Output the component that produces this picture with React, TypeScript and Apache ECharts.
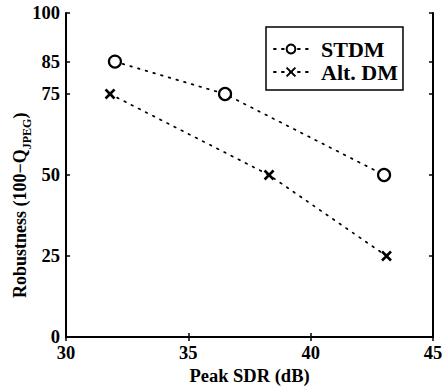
import React, { useEffect, useRef } from "react";
import * as echarts from "echarts";

const sdrStdm = [32, 36.5, 43.0];
const robStdm = [85, 75, 50];
const sdrAlt = [31.8, 38.3, 43.1];
const robAlt = [75, 50, 25];
const yTicks = [0, 25, 50, 75, 85, 100];
const xTicks = [30, 35, 40, 45];

const FONT = "'Liberation Serif', 'DejaVu Serif', serif";
const CROSS = "path://M0,0 L10,10 M10,0 L0,10";

export default function App() {
  const ref = useRef<HTMLDivElement>(null);
  useEffect(() => {
    if (!ref.current) return;
    const chart = echarts.init(ref.current, null, { renderer: "svg" });
    const labelStyle = { fontFamily: FONT, fontSize: 18.5, fontWeight: "bold" as const, color: "#000" };
    const axisLineStyle = { color: "#000", width: 2 };
    const tickStyle = { color: "#000", width: 1.5 };
    chart.setOption({
      animation: false,
      backgroundColor: "#fff",
      grid: { left: 66, right: 12, top: 13, bottom: 50, containLabel: false, outerBoundsMode: "none" },
      legend: {
        left: 266,
        top: 27,
        orient: "vertical",
        borderColor: "#000",
        borderWidth: 1.5,
        padding: [11, 5, 7, 7],
        itemWidth: 34,
        itemHeight: 11,
        itemGap: 1,
        textStyle: {
          fontFamily: FONT,
          fontSize: 22,
          lineHeight: 22,
          fontWeight: "bold",
          color: "#000",
          padding: [0, 0, 0, 8],
        },
        data: ["STDM", "Alt. DM"],
      },
      xAxis: [
        {
          type: "value",
          min: 30,
          max: 45,
          interval: 5,
          position: "bottom",
          name: "Peak SDR (dB)",
          nameLocation: "middle",
          nameGap: 27,
          nameTextStyle: labelStyle,
          axisLine: { lineStyle: axisLineStyle },
          axisTick: { inside: true, length: 4, lineStyle: tickStyle },
          axisLabel: { ...labelStyle, margin: 6, customValues: xTicks },
          splitLine: { show: false },
        },
        {
          type: "value",
          min: 30,
          max: 45,
          interval: 5,
          position: "top",
          axisLine: { lineStyle: axisLineStyle },
          axisTick: { inside: true, length: 4, lineStyle: tickStyle },
          axisLabel: { show: false },
          splitLine: { show: false },
        },
      ],
      yAxis: [
        {
          type: "value",
          min: 0,
          max: 100,
          position: "left",
          axisLine: { show: true, lineStyle: axisLineStyle },
          axisTick: { show: true, inside: true, length: 4, customValues: yTicks, lineStyle: tickStyle },
          axisLabel: { ...labelStyle, margin: 6, customValues: yTicks },
          splitLine: { show: false },
        },
        {
          type: "value",
          min: 0,
          max: 100,
          position: "right",
          axisLine: { show: true, lineStyle: axisLineStyle },
          axisTick: { show: true, inside: true, length: 4, customValues: yTicks, lineStyle: tickStyle },
          axisLabel: { show: false },
          splitLine: { show: false },
        },
      ],
      series: [
        {
          name: "STDM",
          type: "line",
          data: sdrStdm.map((x, i) => [x, robStdm[i]]),
          symbol: "circle",
          symbolSize: 12,
          showSymbol: true,
          itemStyle: { color: "#fff", borderColor: "#000", borderWidth: 2.2 },
          lineStyle: { color: "#000", width: 1.7, type: [1.7, 6.3], cap: "round" },
        },
        {
          name: "Alt. DM",
          type: "line",
          data: sdrAlt.map((x, i) => [x, robAlt[i]]),
          symbol: CROSS,
          symbolSize: 9,
          itemStyle: { color: "none", borderColor: "#000", borderWidth: 2.6 },
          lineStyle: { color: "#000", width: 1.7, type: [1.7, 6.3], cap: "round" },
        },
      ],
      graphic: [
        {
          type: "group",
          x: 20,
          y: 298,
          rotation: Math.PI / 2,
          children: [
            {
              type: "text",
              x: 0,
              y: 0,
              style: {
                text: "{a|Robustness (100\u2212Q}{b|JPEG}{a|)}",
                fill: "#000",
                align: "left",
                verticalAlign: "middle",
                rich: {
                  a: {
                    fontFamily: FONT,
                    fontSize: 18,
                    fontWeight: "bold",
                    lineHeight: 26,
                    fill: "#000",
                  },
                  b: {
                    fontFamily: FONT,
                    fontSize: 12,
                    fontWeight: "bold",
                    lineHeight: 26,
                    verticalAlign: "bottom",
                    fill: "#000",
                  },
                },
              },
            },
          ],
        },
      ],
    });
    return () => chart.dispose();
  }, []);
  return (
    <div
      ref={ref}
      style={{ position: "absolute", left: 0, top: 0, width: 445, height: 387 }}
    />
  );
}
